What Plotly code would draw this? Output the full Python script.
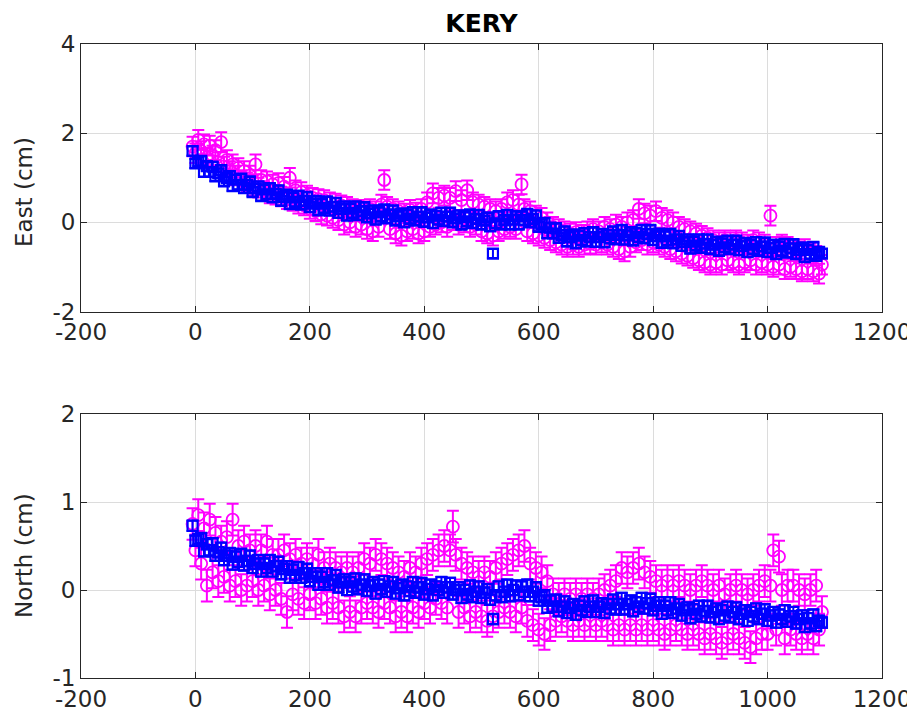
import plotly.graph_objects as go

# Days of the time series (one sample every 5 days)
DAYS = list(range(-5, 1100, 5))

# East component (cm): magenta = series 1 (circles), blue = series 2 (squares)
EAST_MAG = [
    1.70, 1.55, 1.85, 1.60, 1.75, 1.45, 1.72, 1.50, 1.62, 1.35,
    1.80, 1.25, 1.40, 1.15, 1.30, 1.05, 1.22, 0.95, 1.15, 0.90,
    1.05, 0.82, 1.30, 0.78, 0.95, 0.70, 0.92, 0.65, 0.85, 0.62,
    0.88, 0.58, 0.80, 0.52, 1.00, 0.48, 0.72, 0.42, 0.68, 0.38,
    0.60, 0.30, 0.55, 0.25, 0.52, 0.18, 0.50, 0.15, 0.45, 0.10,
    0.42, 0.05, 0.38, -0.05, 0.35, 0.00, 0.30, -0.10, 0.28, -0.05,
    0.25, -0.15, 0.30, -0.20, 0.25, -0.10, 0.40, 0.95, 0.35, -0.15,
    0.30, -0.25, 0.25, -0.30, 0.20, -0.20, 0.28, -0.15, 0.22, -0.25,
    0.30, -0.20, 0.45, -0.10, 0.65, -0.05, 0.55, 0.00, 0.60, -0.10,
    0.55, 0.05, 0.70, -0.05, 0.50, 0.00, 0.72, -0.10, 0.45, -0.05,
    0.40, -0.20, 0.35, -0.25, 0.30, -0.30, 0.25, -0.20, 0.30, -0.15,
    0.45, -0.10, 0.50, -0.15, 0.40, 0.85, 0.30, -0.20, 0.25, -0.25,
    0.15, -0.30, 0.10, -0.35, 0.00, -0.40, -0.10, -0.45, -0.15, -0.50,
    -0.20, -0.55, -0.25, -0.50, -0.22, -0.55, -0.28, -0.50, -0.20, -0.48,
    -0.15, -0.50, -0.20, -0.45, -0.10, -0.50, -0.15, -0.55, -0.05, -0.60,
    -0.10, -0.65, 0.00, -0.55, 0.05, -0.45, 0.30, -0.40, 0.20, -0.50,
    0.15, -0.45, 0.25, -0.50, 0.10, -0.55, 0.05, -0.60, 0.00, -0.65,
    -0.10, -0.70, -0.15, -0.75, -0.20, -0.80, -0.25, -0.85, -0.30, -0.90,
    -0.35, -0.95, -0.40, -0.90, -0.45, -0.95, -0.40, -0.85, -0.45, -0.90,
    -0.40, -0.95, -0.45, -0.90, -0.50, -0.85, -0.40, -0.95, -0.45, -0.90,
    -0.50, -0.95, 0.15, -1.00, -0.55, -0.95, -0.50, -1.05, -0.55, -1.00,
    -0.60, -1.05, -0.65, -1.10, -0.60, -1.05, -0.70, -1.10, -0.75, -1.15,
    -0.95,
]
EAST_BLUE = [
    1.60, 1.32, 1.36, 1.38, 1.13, 1.26, 1.13, 1.25, 1.03, 1.10,
    1.17, 0.92, 0.99, 1.04, 0.81, 0.96, 0.84, 0.98, 0.77, 0.84,
    0.92, 0.68, 0.76, 0.81, 0.59, 0.74, 0.63, 0.77, 0.56, 0.64,
    0.72, 0.48, 0.57, 0.62, 0.41, 0.56, 0.46, 0.60, 0.40, 0.48,
    0.57, 0.34, 0.42, 0.48, 0.27, 0.42, 0.32, 0.47, 0.26, 0.35,
    0.44, 0.21, 0.30, 0.36, 0.15, 0.31, 0.21, 0.36, 0.16, 0.25,
    0.34, 0.11, 0.20, 0.27, 0.06, 0.23, 0.13, 0.29, 0.09, 0.18,
    0.27, 0.04, 0.14, 0.20, 0.00, 0.17, 0.08, 0.23, 0.04, 0.13,
    0.23, 0.01, 0.11, 0.18, -0.02, 0.15, 0.06, 0.22, 0.03, 0.13,
    0.22, 0.00, 0.09, 0.16, -0.05, 0.12, 0.02, 0.18, -0.02, 0.08,
    0.17, -0.05, 0.04, 0.11, -0.09, -0.70, -0.02, 0.14, -0.05, 0.05,
    0.17, -0.05, 0.06, 0.14, -0.05, 0.14, 0.05, 0.19, 0.00, 0.08,
    0.16, -0.10, -0.04, -0.01, -0.25, -0.12, -0.25, -0.13, -0.35, -0.28,
    -0.20, -0.43, -0.33, -0.27, -0.47, -0.30, -0.40, -0.24, -0.43, -0.33,
    -0.22, -0.44, -0.33, -0.26, -0.45, -0.28, -0.36, -0.20, -0.38, -0.28,
    -0.17, -0.39, -0.29, -0.22, -0.41, -0.24, -0.33, -0.17, -0.36, -0.26,
    -0.17, -0.40, -0.31, -0.25, -0.46, -0.31, -0.41, -0.26, -0.47, -0.38,
    -0.30, -0.53, -0.44, -0.38, -0.59, -0.43, -0.52, -0.38, -0.57, -0.48,
    -0.38, -0.60, -0.50, -0.43, -0.64, -0.47, -0.56, -0.41, -0.60, -0.50,
    -0.41, -0.63, -0.53, -0.46, -0.67, -0.50, -0.60, -0.44, -0.64, -0.54,
    -0.45, -0.67, -0.57, -0.50, -0.71, -0.54, -0.64, -0.48, -0.68, -0.58,
    -0.49, -0.71, -0.62, -0.56, -0.78, -0.62, -0.71, -0.55, -0.75, -0.66,
    -0.70,
]

# North component (cm)
NORTH_MAG = [
    0.75, 0.45, 0.85, 0.30, 0.70, 0.05, 0.80, 0.20, 0.65, 0.10,
    0.55, 0.15, 0.60, 0.05, 0.80, 0.10, 0.50, 0.00, 0.55, 0.05,
    0.45, 0.10, 0.50, 0.00, 0.45, 0.05, 0.55, -0.05, 0.40, 0.00,
    0.40, -0.10, 0.45, -0.25, 0.35, -0.05, 0.40, -0.10, 0.30, -0.15,
    0.35, -0.05, 0.30, -0.15, 0.40, -0.10, 0.25, -0.20, 0.30, -0.15,
    0.25, -0.20, 0.20, -0.30, 0.25, -0.25, 0.20, -0.30, 0.25, -0.20,
    0.35, -0.15, 0.30, -0.20, 0.40, -0.25, 0.35, -0.15, 0.30, -0.20,
    0.25, -0.30, 0.20, -0.25, 0.15, -0.30, 0.25, -0.20, 0.20, -0.25,
    0.30, -0.15, 0.35, -0.20, 0.40, -0.10, 0.45, -0.15, 0.50, -0.20,
    0.45, 0.72, 0.40, -0.25, 0.30, -0.20, 0.25, -0.30, 0.20, -0.25,
    0.15, -0.30, 0.20, -0.35, 0.15, -0.30, 0.25, -0.25, 0.30, -0.20,
    0.35, -0.25, 0.40, -0.30, 0.45, -0.20, 0.50, -0.35, 0.30, -0.40,
    0.25, -0.45, 0.20, -0.50, 0.10, -0.40, -0.05, -0.35, -0.10, -0.30,
    -0.05, -0.35, -0.10, -0.40, -0.05, -0.35, -0.10, -0.40, -0.05, -0.35,
    -0.10, -0.40, -0.05, -0.35, 0.00, -0.40, 0.05, -0.45, 0.10, -0.40,
    0.25, -0.45, 0.20, -0.40, 0.25, -0.45, 0.30, -0.40, 0.20, -0.45,
    0.15, -0.40, 0.10, -0.45, 0.05, -0.50, 0.10, -0.45, 0.05, -0.40,
    0.10, -0.45, 0.05, -0.50, 0.00, -0.45, 0.05, -0.50, 0.10, -0.55,
    0.05, -0.50, 0.00, -0.55, 0.05, -0.60, -0.05, -0.55, 0.00, -0.50,
    0.05, -0.55, 0.00, -0.60, -0.05, -0.65, 0.00, -0.55, 0.05, -0.50,
    0.10, -0.50, 0.05, 0.45, -0.45, 0.38, 0.00, -0.55, 0.05, -0.45,
    0.05, -0.50, 0.00, -0.55, -0.05, -0.50, 0.00, -0.55, 0.05, -0.45,
    -0.25,
]
NORTH_BLUE = [
    0.73, 0.56, 0.58, 0.59, 0.44, 0.52, 0.45, 0.53, 0.39, 0.43,
    0.48, 0.34, 0.39, 0.42, 0.29, 0.38, 0.32, 0.41, 0.28, 0.33,
    0.39, 0.25, 0.30, 0.34, 0.21, 0.30, 0.25, 0.34, 0.21, 0.27,
    0.32, 0.18, 0.24, 0.27, 0.14, 0.23, 0.17, 0.26, 0.14, 0.19,
    0.24, 0.10, 0.15, 0.19, 0.06, 0.15, 0.09, 0.19, 0.06, 0.11,
    0.17, 0.03, 0.09, 0.12, 0.00, 0.09, 0.04, 0.13, 0.01, 0.06,
    0.12, -0.01, 0.05, 0.09, -0.04, 0.06, 0.01, 0.10, -0.02, 0.04,
    0.09, -0.04, 0.02, 0.06, -0.06, 0.04, -0.01, 0.09, -0.03, 0.03,
    0.08, -0.05, 0.01, 0.06, -0.06, 0.04, 0.00, 0.09, -0.03, 0.03,
    0.08, -0.05, 0.00, 0.03, -0.09, 0.00, -0.05, 0.05, -0.08, -0.02,
    0.04, -0.09, -0.03, 0.01, -0.11, -0.33, -0.06, 0.04, -0.08, -0.02,
    0.06, -0.07, 0.00, 0.05, -0.06, 0.04, -0.02, 0.06, -0.07, -0.02,
    0.03, -0.12, -0.08, -0.06, -0.20, -0.12, -0.19, -0.11, -0.24, -0.19,
    -0.13, -0.26, -0.20, -0.16, -0.28, -0.18, -0.23, -0.13, -0.25, -0.19,
    -0.12, -0.25, -0.19, -0.15, -0.26, -0.16, -0.21, -0.11, -0.22, -0.16,
    -0.09, -0.22, -0.16, -0.12, -0.24, -0.14, -0.19, -0.09, -0.21, -0.15,
    -0.10, -0.23, -0.18, -0.14, -0.27, -0.18, -0.23, -0.14, -0.26, -0.21,
    -0.16, -0.29, -0.23, -0.20, -0.32, -0.22, -0.27, -0.18, -0.30, -0.24,
    -0.18, -0.31, -0.25, -0.21, -0.33, -0.23, -0.29, -0.19, -0.31, -0.25,
    -0.20, -0.33, -0.27, -0.23, -0.35, -0.25, -0.30, -0.21, -0.33, -0.27,
    -0.22, -0.35, -0.29, -0.25, -0.37, -0.28, -0.33, -0.23, -0.36, -0.30,
    -0.25, -0.38, -0.33, -0.29, -0.42, -0.32, -0.38, -0.28, -0.41, -0.35,
    -0.37,
]

# Uncertainties (cm)
ERR_EAST_MAG = 0.22
ERR_EAST_BLUE = 0.10
ERR_NORTH_MAG = 0.18
ERR_NORTH_BLUE = 0.06

X_TICKS = [-200, 0, 200, 400, 600, 800, 1000, 1200]
X_TICKTEXT = ["-200", "0", "200", "400", "600", "800", "1000", "1200"]
EAST_TICKS = [-2, 0, 2, 4]
EAST_TICKTEXT = ["-2", "0", "2", "4"]
NORTH_TICKS = [-1, 0, 1, 2]
NORTH_TICKTEXT = ["-1", "0", "1", "2"]

MAG = "#FF00FF"
BLUE = "#0000FF"
AX = "#262626"
FONT = "DejaVu Sans"


def series(y, err, color, symbol, size, lw, xa, ya):
    return go.Scatter(
        x=DAYS, y=y, mode="markers", xaxis=xa, yaxis=ya,
        marker=dict(symbol=symbol, size=size, color=color,
                    line=dict(color=color, width=lw)),
        error_y=dict(type="constant", value=err, color=color,
                     thickness=2, width=6),
        showlegend=False, hoverinfo="x+y",
    )


fig = go.Figure()
fig.add_trace(series(EAST_MAG, ERR_EAST_MAG, MAG, "circle-open", 12, 1.8, "x", "y"))
fig.add_trace(series(EAST_BLUE, ERR_EAST_BLUE, BLUE, "square-open", 10, 2.2, "x", "y"))
fig.add_trace(series(NORTH_MAG, ERR_NORTH_MAG, MAG, "circle-open", 12, 1.8, "x2", "y2"))
fig.add_trace(series(NORTH_BLUE, ERR_NORTH_BLUE, BLUE, "square-open", 10, 2.2, "x2", "y2"))

axis_common = dict(
    showline=True, linecolor=AX, linewidth=1, mirror="ticks",
    ticks="inside", ticklen=6, tickcolor=AX, tickwidth=1,
    showgrid=True, gridcolor="#dcdcdc", gridwidth=1, zeroline=False,
    automargin=False,
    tickfont=dict(family=FONT, size=23, color=AX),
)

# The page body adds an 8 px offset, so the figure is sized 907x710.
FIG_W, FIG_H = 907, 710

fig.update_layout(
    width=FIG_W, height=FIG_H,
    margin=dict(l=73, r=33, t=36, b=40, autoexpand=False),
    paper_bgcolor="white", plot_bgcolor="white",
    title=dict(text="<b>KERY</b>", x=0.5, xref="paper", xanchor="center",
               y=1 - 15 / FIG_H, yref="container", yanchor="middle",
               automargin=False,
               font=dict(family=FONT, size=25, color="#000000")),
    xaxis=dict(domain=[0, 1], anchor="y", range=[-200, 1200],
               tickvals=X_TICKS, ticktext=X_TICKTEXT, **axis_common),
    yaxis=dict(domain=[0.578, 1], anchor="x", range=[-2, 4],
               tickvals=EAST_TICKS, ticktext=EAST_TICKTEXT, **axis_common),
    xaxis2=dict(domain=[0, 1], anchor="y2", range=[-200, 1200],
                tickvals=X_TICKS, ticktext=X_TICKTEXT, **axis_common),
    yaxis2=dict(domain=[0, 0.4164], anchor="x2", range=[-1, 2],
                tickvals=NORTH_TICKS, ticktext=NORTH_TICKTEXT, **axis_common),
    annotations=[
        dict(text="East (cm)", textangle=-90, xref="paper", yref="paper",
             x=(24 - 81) / 801, y=(678 - 192) / 634, xanchor="center",
             yanchor="middle", showarrow=False,
             font=dict(family=FONT, size=23, color=AX)),
        dict(text="North (cm)", textangle=-90, xref="paper", yref="paper",
             x=(24 - 81) / 801, y=(678 - 556) / 634, xanchor="center",
             yanchor="middle", showarrow=False,
             font=dict(family=FONT, size=23, color=AX)),
    ],
)

fig.write_html("out.html")
